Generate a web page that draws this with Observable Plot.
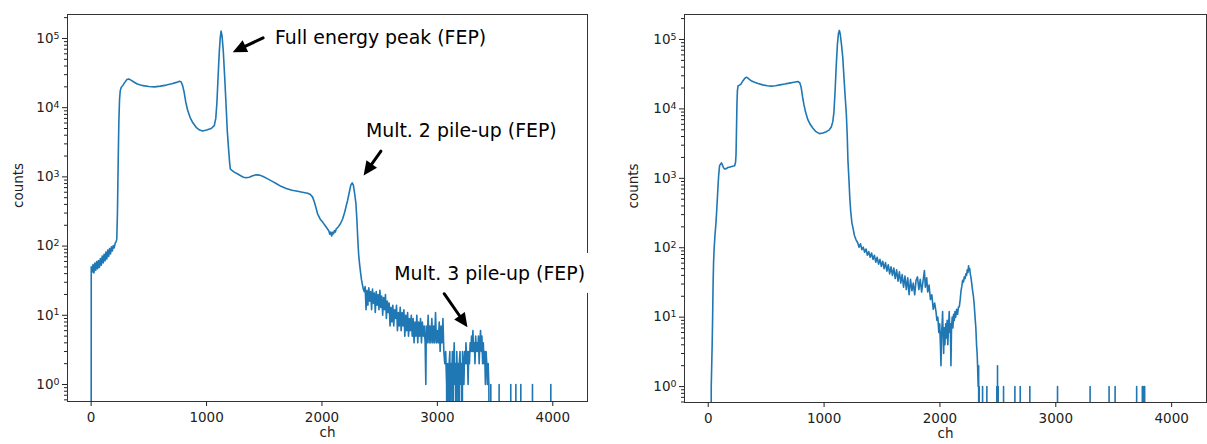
<!DOCTYPE html>
<html><head><meta charset="utf-8">
<script src="https://cdn.jsdelivr.net/npm/d3@7"></script>
<script src="https://cdn.jsdelivr.net/npm/@observablehq/plot@0.6"></script>
<style>
body{margin:0;background:#fff;}
#wrap{display:flex;width:1207px;height:444px;font-family:"DejaVu Sans",sans-serif;}
</style></head><body><div id="wrap"></div>
<script>
// ---------- data: [channel, counts] ----------
const leftSpectrum = [
[0,0],[1,50],[8,42],[16,54],[24,41],[32,57],[40,45],[48,60],[56,47],[64,62],[72,49],[80,66],[88,53],[96,72],[104,57],[112,76],[120,61],[128,82],[136,65],[144,88],[152,71],[160,92],[168,77],[176,98],[184,85],[192,102],[200,94],[208,110],[216,115],[222,125],[228,300],[234,1500],[240,6000],[246,13000],[252,17500],[260,19500],[275,21000],[290,23000],[310,25500],[326,26000],[345,25000],[370,23500],[400,22000],[450,20800],[500,20200],[550,20000],[600,20500],[650,21200],[700,22200],[740,23200],[765,24000],[780,23500],[792,21000],[805,17000],[820,12000],[837,9100],[858,7200],[880,6100],[910,5200],[940,4750],[966,4600],[1000,4750],[1040,5000],[1067,5500],[1080,7000],[1090,12000],[1100,28000],[1110,62000],[1118,100000],[1126,128000],[1134,110000],[1145,66000],[1157,28000],[1169,11000],[1180,4500],[1192,2400],[1200,1600],[1206,1300],[1220,1240],[1240,1170],[1270,1100],[1300,1030],[1320,990],[1342,970],[1370,990],[1400,1040],[1430,1070],[1460,1060],[1490,1010],[1530,935],[1570,860],[1610,790],[1645,730],[1690,680],[1740,640],[1789,620],[1830,600],[1876,580],[1900,555],[1919,510],[1935,430],[1950,350],[1962,293],[1985,245],[2006,222],[2030,195],[2050,175],[2060,165],[2068,148],[2076,160],[2084,140],[2092,158],[2100,150],[2108,168],[2116,160],[2124,178],[2136,185],[2160,210],[2179,246],[2195,300],[2210,380],[2222,456],[2235,580],[2250,760],[2262,820],[2272,760],[2283,580],[2294,415],[2302,250],[2310,130],[2318,75],[2326,55],[2334,42],[2342,33],[2350,28],[2358,24],
[2366,22],[2374,26],[2382,12],[2390,23],[2398,14],[2406,25],[2414,16],[2422,22],[2430,12],[2438,24],[2446,15],[2454,21],[2462,11],[2470,22],[2478,14],[2486,20],[2494,12],[2502,23],[2510,13],[2518,19],[2526,10],[2534,18],[2542,12],[2550,20],[2558,9],[2566,16],[2574,11],[2582,15],[2590,7],[2598,13],[2606,8],[2614,14],[2622,7],[2630,12],[2638,9],[2646,14],[2654,6],[2662,11],[2670,7],[2678,13],[2686,6],[2694,11],[2702,7],[2710,12],[2718,5],[2726,10],[2734,6],[2742,11],[2750,5],[2758,9],[2766,6],[2774,10],[2782,5],[2790,9],[2798,4],[2806,8],[2814,5],[2822,10],[2830,4],[2838,8],[2846,5],[2854,9],[2862,4],[2870,8],[2878,5],[2886,7],[2894,4],[2900,1],[2904,7],[2912,4],[2920,10],[2928,4],[2936,7],[2944,4],[2952,9],[2960,4],[2968,7],[2976,4],[2984,11],[2992,4],[3000,6],[3008,4],[3016,8],[3024,3],[3032,7],[3040,4],[3048,9],[3056,3],[3064,2],[3072,3],[3080,1],
[3084,0],[3088,2],[3094,1],[3098,0],[3102,2],[3108,3],[3114,0],[3118,2],[3124,1],[3130,3],[3136,0],[3140,2],[3146,4],[3152,1],[3158,2],[3164,0],[3168,3],[3174,1],[3180,2],[3186,0],[3190,2],[3196,3],[3202,1],[3208,2],[3214,0],[3218,3],[3224,2],[3230,1],[3236,3],[3242,2],[3248,4],[3254,2],[3260,3],[3266,1],[3272,3],[3278,2],[3284,4],[3290,3],[3296,5],[3302,3],[3308,6],[3314,3],[3320,4],[3326,2],[3332,5],[3338,3],[3344,4],[3350,3],[3356,5],[3362,2],[3368,4],[3374,6],[3380,3],[3386,5],[3392,2],[3398,4],[3404,2],[3410,3],[3416,1],[3422,3],[3428,2],[3434,1],[3440,2],[3446,1],[3452,0],
[3462,0],[3463,1],[3464,0],[3534,0],[3535,1],[3536,0],[3635,0],[3636,1],[3637,0],[3679,0],[3680,1],[3681,0],[3722,0],[3723,1],[3724,0],[3823,0],[3824,1],[3825,0],[3982,0],[3983,1],[3984,0],[4095,0]
];

const rightSpectrum = [
[0,0],[24,0],[26,1],[30,2],[34,4],[38,10],[42,30],[46,60],[50,90],[58,150],[66,220],[72,320],[78,480],[84,750],[90,1100],[98,1520],[106,1600],[114,1670],[122,1560],[132,1420],[142,1360],[155,1380],[170,1430],[190,1460],[210,1490],[228,1520],[236,1700],[240,2200],[244,5000],[248,12000],[252,18500],[258,21500],[270,22000],[284,23000],[300,25500],[320,28000],[333,28500],[350,27000],[375,25200],[400,24200],[430,23200],[470,22200],[510,21500],[543,21300],[580,21600],[620,22200],[660,22800],[700,23500],[740,24200],[773,24800],[790,23800],[802,20500],[814,15000],[826,11500],[840,9000],[860,7000],[880,6000],[902,5300],[930,4700],[960,4400],[990,4500],[1020,4700],[1045,5000],[1062,5500],[1075,6500],[1085,9000],[1095,18000],[1105,42000],[1115,85000],[1124,122000],[1132,135000],[1140,118000],[1150,85000],[1161,56000],[1172,28000],[1182,15000],[1192,8500],[1200,4000],[1206,1800],[1214,1000],[1222,520],[1230,330],[1240,230],[1250,190],[1262,150],[1276,130],
[1290,118],[1302,102],[1314,114],[1326,94],[1338,102],[1350,86],[1362,96],[1374,78],[1386,88],[1398,73],[1410,84],[1422,68],[1434,78],[1446,62],[1458,73],[1470,58],[1482,68],[1494,54],[1506,64],[1518,50],[1530,61],[1542,46],[1554,57],[1566,42],[1578,53],[1590,40],[1602,51],[1614,36],[1626,48],[1638,33],[1650,45],[1662,31],[1674,41],[1686,27],[1698,39],[1710,25],[1722,37],[1734,21],[1746,35],[1758,24],[1770,31],[1782,21],[1794,34],[1806,38],[1818,25],[1830,35],[1842,23],[1854,33],[1866,47],[1874,27],[1886,37],[1894,23],[1906,29],[1918,18],[1930,21],[1942,13],[1954,16],[1966,12],[1974,9],[1982,10],[1990,6],[1998,8],[2004,4],[2009,2],[2014,6],[2019,8],[2023,12],[2028,5],[2032,3],[2037,7],[2043,4],[2050,8],[2056,5],[2062,9],[2068,4],[2074,7],[2080,12],[2085,6],[2090,8],[2095,2],[2100,7],[2106,10],[2112,7],[2118,11],[2124,9],[2130,12],[2136,10],[2144,13],[2152,11],[2160,14],[2167,14],[2175,18],[2182,24],[2189,28],[2196,34],[2203,32],[2210,38],[2217,36],[2224,42],[2230,40],[2236,48],[2242,44],[2247,55],[2252,47],[2257,50],[2262,42],[2267,38],[2275,30],[2282,24],[2289,20],[2296,15],[2303,10],[2310,7],[2316,4],[2321,3],[2325,2],[2330,1],[2334,2],[2336,0],
[2339,1],[2340,0],[2367,0],[2368,1],[2369,0],[2404,0],[2405,1],[2406,0],[2490,0],[2491,1],[2492,0],[2496,0],[2497,2],[2498,0],[2502,0],[2503,1],[2504,0],[2548,0],[2549,1],[2550,0],[2646,0],[2647,1],[2648,0],[2692,0],[2693,1],[2694,0],[2775,0],[2776,1],[2777,0],[3014,0],[3015,1],[3016,0],[3295,0],[3296,1],[3297,0],[3459,0],[3460,1],[3461,0],[3511,0],[3512,1],[3513,0],[3697,0],[3698,1],[3699,0],[3746,0],[3747,1],[3748,0],[3759,0],[3760,1],[3761,0],[3766,0],[3767,1],[3768,0],[4095,0]
];

const xTicks = [0, 1000, 2000, 3000, 4000];
const majorYTicks = [1, 10, 100, 1000, 10000, 100000];
const minorMantissas = [2, 3, 4, 5, 6, 7, 8, 9];
const decades = [0.1, 1, 10, 100, 1000, 10000, 100000];

const leftAnnotations = [
  {label: "Full energy peak (FEP)", textX: 1593, textY: 1.02e5, tailX: 1490, tailY: 1.02e5, tipX: 1227, tipY: 6.34e4},
  {label: "Mult. 2 pile-up (FEP)", textX: 2381, textY: 4680, tailX: 2511, tailY: 2352, tipX: 2361, tipY: 1047},
  {label: "Mult. 3 pile-up (FEP)", textX: 2626, textY: 39.7, tailX: 3059, tailY: 20.5, tipX: 3261, tipY: 6.73, box: [2537, 4372, 20.7, 78.2]}
];
const rightAnnotations = [];

// ---------- rendering ----------
const powLabel = d => "10^" + Math.round(Math.log10(d));
const arrowHead = {draw(ctx) { ctx.moveTo(0, 0); ctx.lineTo(-6.5, 14); ctx.lineTo(6.5, 14); ctx.closePath(); }};

function superscriptLabels(svg) {
  svg.querySelectorAll("text").forEach(t => {
    const s = t.textContent;
    if (!/^10\^-?\d+$/.test(s)) return;
    const [base, exp] = s.split("^");
    t.textContent = "";
    const ns = "http://www.w3.org/2000/svg";
    const b = document.createElementNS(ns, "tspan"); b.textContent = base;
    const e = document.createElementNS(ns, "tspan"); e.textContent = exp;
    e.setAttribute("dy", "-0.45em"); e.setAttribute("font-size", "70%");
    t.append(b, e);
  });
  return svg;
}

function panel({data, annotations, width, marginLeft, marginRight, marginBottom, yDomain, countsDx}) {
  const height = 444, marginTop = 14;
  const xDomain = [-204.8, 4300.8];
  const sx = Plot.scale({x: {domain: xDomain, range: [marginLeft, width - marginRight]}});
  const sy = Plot.scale({y: {type: "log", domain: yDomain, range: [height - marginBottom, marginTop]}});
  const ann = annotations.map(a => {
    const dx = sx.apply(a.tipX) - sx.apply(a.tailX);
    const dy = sy.apply(a.tipY) - sy.apply(a.tailY);
    return {...a, angle: Math.atan2(dx, -dy) * 180 / Math.PI};
  });
  const boxes = ann.filter(a => a.box);
  const minor = decades.flatMap(d => minorMantissas.map(m => m * d)).filter(v => v >= yDomain[0] && v <= yDomain[1]);
  const svg = Plot.plot({
    width, height, marginLeft, marginRight, marginTop, marginBottom,
    style: {fontFamily: "DejaVu Sans, sans-serif", fontSize: "13.5px", color: "#222", background: "white", overflow: "visible"},
    x: {domain: xDomain, axis: null},
    y: {type: "log", domain: yDomain, axis: null},
    marks: [
      Plot.frame({stroke: "#333", strokeWidth: 1}),
      Plot.axisX({ticks: xTicks, tickSize: 5, tickPadding: 6, tickFormat: d => String(d), label: null}),
      Plot.axisY({ticks: minor, tickSize: 3, tickFormat: () => "", label: null}),
      Plot.axisY({ticks: majorYTicks, tickSize: 5, tickPadding: 3, tickFormat: powLabel, label: null}),
      Plot.line(data, {x: d => d[0], y: d => d[1] > 0 ? d[1] : 0.01, stroke: "#1f77b4", strokeWidth: 1.6, clip: true}),
      Plot.rect(boxes, {x1: d => d.box[0], x2: d => d.box[1], y1: d => d.box[2], y2: d => d.box[3], fill: "white"}),
      Plot.text(ann, {x: "textX", y: "textY", text: "label", textAnchor: "start", fontSize: 18.9, fill: "black"}),
      Plot.arrow(ann, {x1: "tailX", y1: "tailY", x2: "tipX", y2: "tipY", stroke: "black", strokeWidth: 3, headLength: 0, insetEnd: 10}),
      Plot.dot(ann, {x: "tipX", y: "tipY", symbol: arrowHead, rotate: d => d.angle, r: 5, fill: "black", stroke: "none"}),
      Plot.text(["ch"], {text: d => d, frameAnchor: "bottom", dy: 35, fontSize: 13.5}),
      Plot.text(["counts"], {text: d => d, frameAnchor: "left", dx: countsDx, rotate: -90, fontSize: 13.5})
    ]
  });
  return superscriptLabels(svg);
}

const wrap = document.getElementById("wrap");
wrap.append(panel({data: leftSpectrum, annotations: leftAnnotations, width: 600, marginLeft: 67, marginRight: 13, marginBottom: 43, yDomain: [0.568, 2.22e5], countsDx: -49}));
wrap.append(panel({data: rightSpectrum, annotations: rightAnnotations, width: 607, marginLeft: 84, marginRight: 1, marginBottom: 42, yDomain: [0.59, 2.29e5], countsDx: -51}));
</script>
</body></html>
